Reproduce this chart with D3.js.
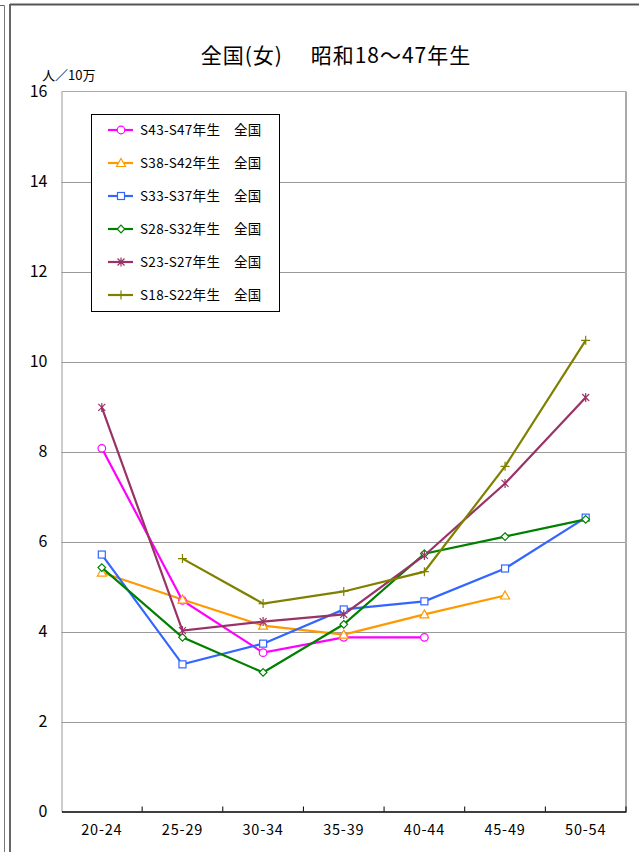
<!DOCTYPE html>
<html><head><meta charset="utf-8">
<script src="https://cdn.jsdelivr.net/npm/d3@7"></script>
<style>body{margin:0;background:#fff}svg{display:block}text{font-family:"Noto Sans CJK JP","Noto Sans",sans-serif}</style>
</head><body><svg id="c" width="639" height="852"></svg>
<script>
const categories = ["20-24","25-29","30-34","35-39","40-44","45-49","50-54"];
const yTicks = [0,2,4,6,8,10,12,14,16];
const seriesNames = ["S43-S47年生　全国","S38-S42年生　全国","S33-S37年生　全国","S28-S32年生　全国","S23-S27年生　全国","S18-S22年生　全国"];
const s43_47 = [8.07,4.69,3.53,3.87,3.87,null,null];
const s38_42 = [5.31,4.71,4.13,3.93,4.38,4.80,null];
const s33_37 = [5.71,3.27,3.73,4.49,4.67,5.40,6.53];
const s28_32 = [5.42,3.87,3.09,4.16,5.73,6.11,6.49];
const s23_27 = [8.98,4.02,4.22,4.38,5.69,7.29,9.20];
const s18_22 = [null,5.62,4.62,4.89,5.33,7.67,10.47];
const colors = ["#ff00ff","#ff9900","#3366ff","#008000","#993366","#808000"];
const markers = ["circle","triangle","square","diamond","asterisk","plus"];
const allSeries = [s43_47,s38_42,s33_37,s28_32,s23_27,s18_22];

const svg = d3.select("#c");
// outer frames
svg.append("line").attr("x1",0).attr("x2",4.5).attr("y1",5.5).attr("y2",5.5).attr("stroke","#666");
svg.append("line").attr("x1",4.5).attr("x2",4.5).attr("y1",5.5).attr("y2",852).attr("stroke","#777");
svg.append("line").attr("x1",10).attr("x2",10).attr("y1",4).attr("y2",852).attr("stroke","#666").attr("stroke-width",2);
svg.append("line").attr("x1",10).attr("x2",639).attr("y1",4.5).attr("y2",4.5).attr("stroke","#555").attr("stroke-width",2);

const L=61.5, R=626, T=91.5, B=811.5;
const x = d3.scaleBand().domain(categories).range([L,R]);
const y = d3.scaleLinear().domain([0,16]).range([B,T]);

// gridlines
svg.append("g").selectAll("line").data(yTicks.filter(d=>d>0&&d<16)).join("line")
  .attr("x1",L).attr("x2",R).attr("y1",d=>Math.round(y(d))+0.5).attr("y2",d=>Math.round(y(d))+0.5)
  .attr("stroke","#999").attr("stroke-width",1);
// plot border
svg.append("line").attr("x1",L).attr("x2",R).attr("y1",T).attr("y2",T).attr("stroke","#aaa");
svg.append("line").attr("x1",R).attr("x2",R).attr("y1",T).attr("y2",B).attr("stroke","#aaa").attr("stroke-width",2);

// y axis
const yAxis = d3.axisLeft(y).tickValues(yTicks).tickSize(0).tickPadding(14).tickFormat(d3.format("d"));
const gy = svg.append("g").attr("transform",`translate(${L},0)`).call(yAxis);
gy.select(".domain").attr("stroke","#999");
gy.selectAll("text").attr("font-size",16).attr("fill","#000");

// x axis
const xAxis = d3.axisBottom(x).tickSize(0).tickPadding(13);
const gx = svg.append("g").attr("transform",`translate(0,${B})`).call(xAxis);
gx.select(".domain").attr("stroke","#000").attr("stroke-width",1.5);
gx.selectAll("text").attr("font-size",14.5).attr("letter-spacing",0.8).attr("fill","#000");
// boundary ticks
svg.append("g").selectAll("line").data(categories.slice(1).concat(["end"])).join("line")
  .attr("x1",d=>d==="end"?R:x(d)).attr("x2",d=>d==="end"?R:x(d)).attr("y1",B-5).attr("y2",B)
  .attr("stroke","#000");

// title and unit
svg.append("text").attr("x",336).attr("y",63).attr("text-anchor","middle").attr("font-size",21).attr("letter-spacing",1).text("全国(女)　 昭和18～47年生");
svg.append("text").attr("x",42).attr("y",80).attr("font-size",13).text("人／10万");

function drawMarker(g,type,color,cx,cy){
  if(type==="circle") g.append("circle").attr("cx",cx).attr("cy",cy).attr("r",3.8).attr("fill","#fff").attr("stroke",color).attr("stroke-width",1.2);
  else if(type==="triangle") g.append("path").attr("d",`M${cx},${cy-4.5}L${cx+4.5},${cy+3.5}L${cx-4.5},${cy+3.5}Z`).attr("fill","#fff").attr("stroke",color).attr("stroke-width",1.2);
  else if(type==="square") g.append("rect").attr("x",cx-3.5).attr("y",cy-3.5).attr("width",7).attr("height",7).attr("fill","#fff").attr("stroke",color).attr("stroke-width",1.2);
  else if(type==="diamond") g.append("path").attr("d",`M${cx},${cy-3.8}L${cx+3.8},${cy}L${cx},${cy+3.8}L${cx-3.8},${cy}Z`).attr("fill","#fff").attr("stroke",color).attr("stroke-width",1.2);
  else if(type==="asterisk") g.append("path").attr("d",`M${cx-3.5},${cy-3.5}L${cx+3.5},${cy+3.5}M${cx+3.5},${cy-3.5}L${cx-3.5},${cy+3.5}M${cx},${cy-4.5}L${cx},${cy+4.5}`).attr("stroke",color).attr("stroke-width",1.2).attr("fill","none");
  else if(type==="plus") g.append("path").attr("d",`M${cx-4.5},${cy}L${cx+4.5},${cy}M${cx},${cy-4.5}L${cx},${cy+4.5}`).attr("stroke",color).attr("stroke-width",1.2).attr("fill","none");
}

const cx = c => x(c)+x.bandwidth()/2;
const line = d3.line().defined(d=>d.v!=null).x(d=>cx(d.c)).y(d=>y(d.v));
allSeries.forEach((s,i)=>{
  const data = categories.map((c,j)=>({c:c,v:s[j]}));
  svg.append("path").datum(data).attr("d",line).attr("fill","none").attr("stroke",colors[i]).attr("stroke-width",2.2);
});
allSeries.forEach((s,i)=>{
  const g = svg.append("g");
  categories.forEach((c,j)=>{ if(s[j]!=null) drawMarker(g,markers[i],colors[i],cx(c),y(s[j])); });
});

// legend
const lg = svg.append("g");
lg.append("rect").attr("x",91.5).attr("y",114.5).attr("width",188).attr("height",197).attr("fill","#fff").attr("stroke","#000");
seriesNames.forEach((n,i)=>{
  const ly = 130 + i*33;
  lg.append("line").attr("x1",108).attr("x2",133).attr("y1",ly).attr("y2",ly).attr("stroke",colors[i]).attr("stroke-width",2.2);
  drawMarker(lg,markers[i],colors[i],121,ly);
  lg.append("text").attr("x",140).attr("y",ly+5).attr("font-size",13.5).attr("letter-spacing",0.3).text(n);
});
</script></body></html>
